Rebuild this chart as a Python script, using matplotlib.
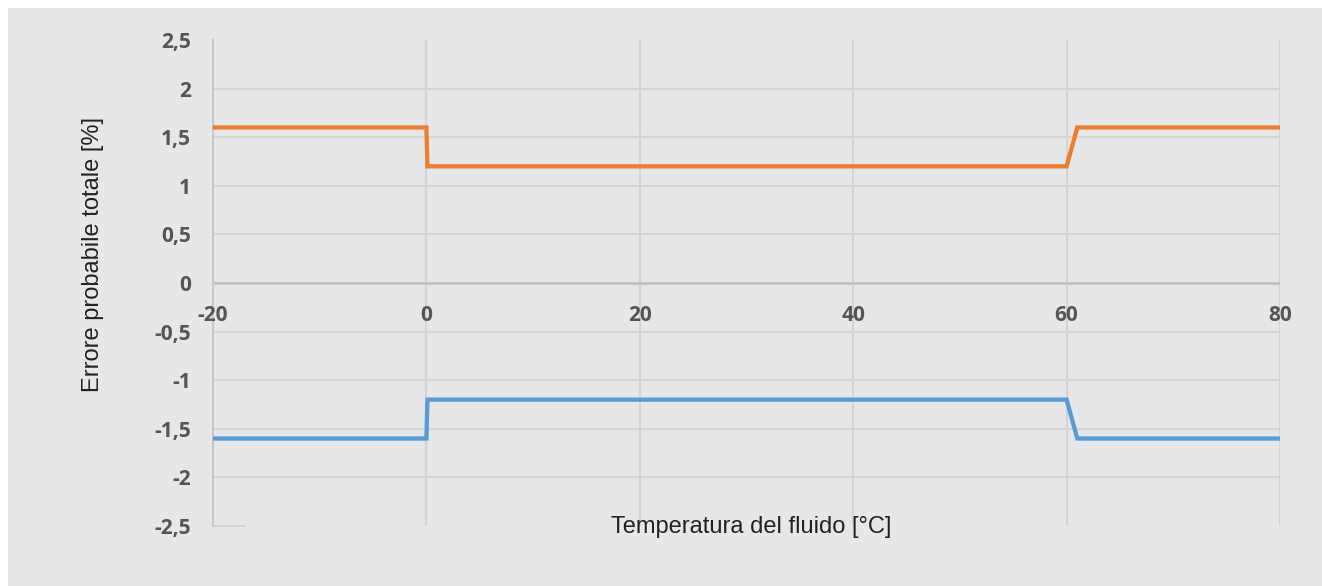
import matplotlib
matplotlib.use("Agg")
import matplotlib.pyplot as plt
from matplotlib.patches import Rectangle
from matplotlib.ticker import FuncFormatter
from matplotlib.font_manager import FontProperties

# Data
temp = [-20, 0, 0.1, 60, 61, 80]
err_pos = [1.6, 1.6, 1.2, 1.2, 1.6, 1.6]
err_neg = [-1.6, -1.6, -1.2, -1.2, -1.6, -1.6]
x_ticks = [-20, 0, 20, 40, 60, 80]
y_ticks = [-2.5, -2, -1.5, -1, -0.5, 0, 0.5, 1, 1.5, 2, 2.5]

W, H = 1322, 586
fig = plt.figure(figsize=(W / 100, H / 100), dpi=100, facecolor="white")
bg = "#e6e7e8"
fig.patches.append(Rectangle((8 / W, 0), 1 - 8 / W, 1 - 8 / H, transform=fig.transFigure,
                             facecolor=bg, edgecolor="none", zorder=-10))

left, right = 213 / W, 1280 / W
top, bottom = 1 - 40 / H, 1 - 526 / H
ax = fig.add_axes([left, bottom, right - left, top - bottom])
ax.set_facecolor(bg)

ax.plot(temp, err_pos, color="#ED7D31", lw=3.1, solid_joinstyle="miter", zorder=3)
ax.plot(temp, err_neg, color="#5B9BD5", lw=3.1, solid_joinstyle="miter", zorder=3)

ax.set_xlim(-20, 80)
ax.set_ylim(-2.5, 2.5)
ax.set_yticks(y_ticks)
ax.set_xticks(x_ticks)
ax.yaxis.set_major_formatter(FuncFormatter(lambda v, p: (f"{v:g}").replace(".", ",")))

for s in ["top", "right", "bottom"]:
    ax.spines[s].set_visible(False)
ax.spines["left"].set_color("#c8c8c8")
ax.spines["left"].set_linewidth(1.5)

ax.grid(True, color="#d4d4d4", lw=1.5)
ax.set_axisbelow(True)
for t, v in zip(ax.yaxis.get_major_ticks(), y_ticks):
    if abs(v) == 2.5:
        t.gridline.set_visible(False)
ax.axhline(0, color="#bfbfbf", lw=1.8, zorder=2)
ax.axhline(-2.5, xmin=0, xmax=0.03, color="#d4d4d4", lw=1.5, zorder=2, clip_on=False)

tick_fp = FontProperties(family=["Open Sans", "DejaVu Sans"], weight="bold", size=15)
ax.tick_params(axis="both", length=0, colors="#555555")
for lab in ax.get_yticklabels():
    lab.set_fontproperties(tick_fp)
ax.tick_params(axis="y", pad=16)
ax.set_xticklabels([])
for xv in x_ticks:
    ax.text(xv, -0.33, f"{xv}", ha="center", va="center", color="#555555", fontproperties=tick_fp)

lab_font = dict(family=["Liberation Sans", "DejaVu Sans"], size=17, color="#222222")
fig.text(751 / W, 1 - 527 / H, "Temperatura del fluido [°C]", ha="center", va="center", **lab_font)
fig.text(93 / W, 1 - 255 / H, "Errore probabile totale [%]", ha="center", va="center",
         rotation=90, **lab_font)

fig.savefig("out.png", dpi=100, facecolor="white")
